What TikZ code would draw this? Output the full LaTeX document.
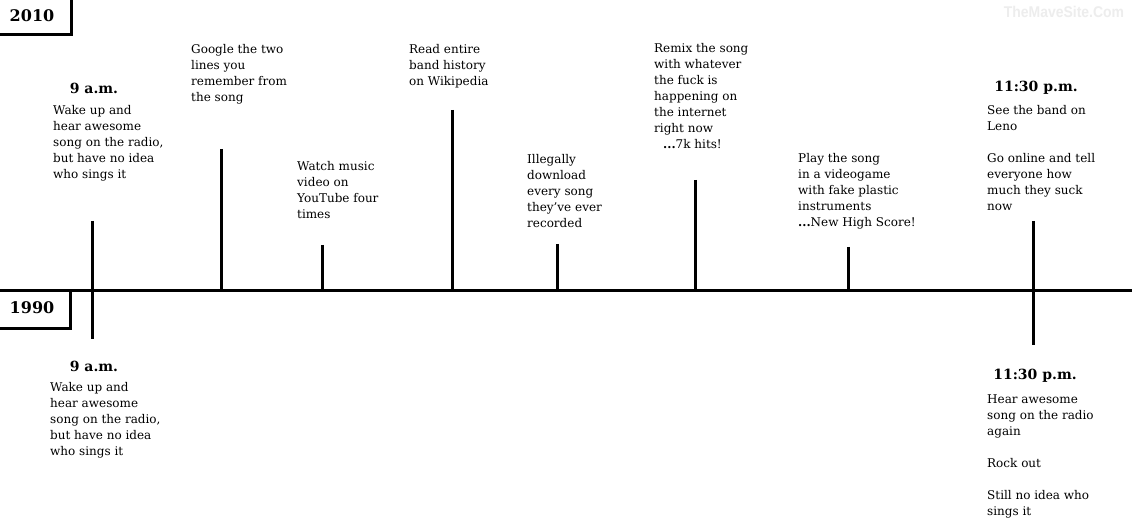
\documentclass[tikz,border=0pt]{standalone}
\usepackage{fontspec}
\setmainfont{DejaVu Serif}
\newfontfamily\wmfont{Liberation Sans}
\begin{document}
\begin{tikzpicture}[x=1pt,y=-1pt,
  txt/.style={anchor=north west,inner sep=0pt,align=left,font=\fontsize{12}{16}\selectfont},
  hd/.style={anchor=center,inner sep=0pt,font=\fontsize{14}{16}\selectfont\bfseries},
  yr/.style={anchor=center,inner sep=0pt,font=\fontsize{16}{16}\selectfont\bfseries},
  tick/.style={line width=3pt},
  axis/.style={line width=3pt},
  frame/.style={line width=3pt}]
\useasboundingbox (0,0) rectangle (1132,529);
\fill[white] (0,0) rectangle (1132,529);
% watermark
\node[inner sep=0pt,text=black!7,font=\wmfont\bfseries\fontsize{15.5}{15.5}\selectfont,xscale=0.9] (wm) at (1064,12) {TheMaveSite.Com};
% year boxes
\node[yr] (y2010) at (32,16) {2010};
\draw[frame] (0,35) -- (71,35) -- (71,0);
\node[yr] (y1990) at (32,308) {1990};
\draw[frame] (0,328) -- (70,328) -- (70,291);
% axis
\coordinate (L) at (0,291);
\coordinate (R) at (1132,291);
\draw[axis] (L) -- (R);
% ticks
\coordinate (t1a) at (92,221); \coordinate (t1b) at (92,339);
\coordinate (t2a) at (221,149); \coordinate (t2b) at (221,291);
\coordinate (t3a) at (322,245); \coordinate (t3b) at (322,291);
\coordinate (t4a) at (452,110); \coordinate (t4b) at (452,291);
\coordinate (t5a) at (557,244); \coordinate (t5b) at (557,291);
\coordinate (t6a) at (695,180); \coordinate (t6b) at (695,291);
\coordinate (t7a) at (848,247); \coordinate (t7b) at (848,291);
\coordinate (t8a) at (1033,221); \coordinate (t8b) at (1033,345);
\foreach \i in {1,...,8} \draw[tick] (t\i a) -- (t\i b);
% top texts
\node[hd] (h1) at (94,88) {9 a.m.};
\node[txt] (a1) at (53,105) {Wake up and\\hear awesome\\song on the radio,\\but have no idea\\who sings it};
\node[txt] (a2) at (191,44) {Google the two\\lines you\\remember from\\the song};
\node[txt] (a3) at (297,161) {Watch music\\video on\\YouTube four\\times};
\node[txt] (a4) at (409,44) {Read entire\\band history\\on Wikipedia};
\node[txt] (a5) at (527,154) {Illegally\\download\\every song\\they've ever\\recorded};
\node[txt] (a6) at (654,43) {Remix the song\\with whatever\\the fuck is\\happening on\\the internet\\right now\\\hspace*{9pt}\textbf{...}7k hits!};
\node[txt] (a7) at (798,153) {Play the song\\in a videogame\\with fake plastic\\instruments\\\textbf{...}New High Score!};
\node[hd] (h8) at (1036,88) {11:30 p.m.};
\node[txt] (a8) at (987,105) {See the band on\\Leno\\[16pt]Go online and tell\\everyone how\\much they suck\\now};
% bottom texts
\node[hd] (b1) at (94,366) {9 a.m.};
\node[txt] (c1) at (50,382) {Wake up and\\hear awesome\\song on the radio,\\but have no idea\\who sings it};
\node[hd] (b8) at (1035,376) {11:30 p.m.};
\node[txt] (c8) at (987,395) {Hear awesome\\song on the radio\\again\\[16pt]Rock out\\[16pt]Still no idea who\\sings it};
\end{tikzpicture}
\end{document}
